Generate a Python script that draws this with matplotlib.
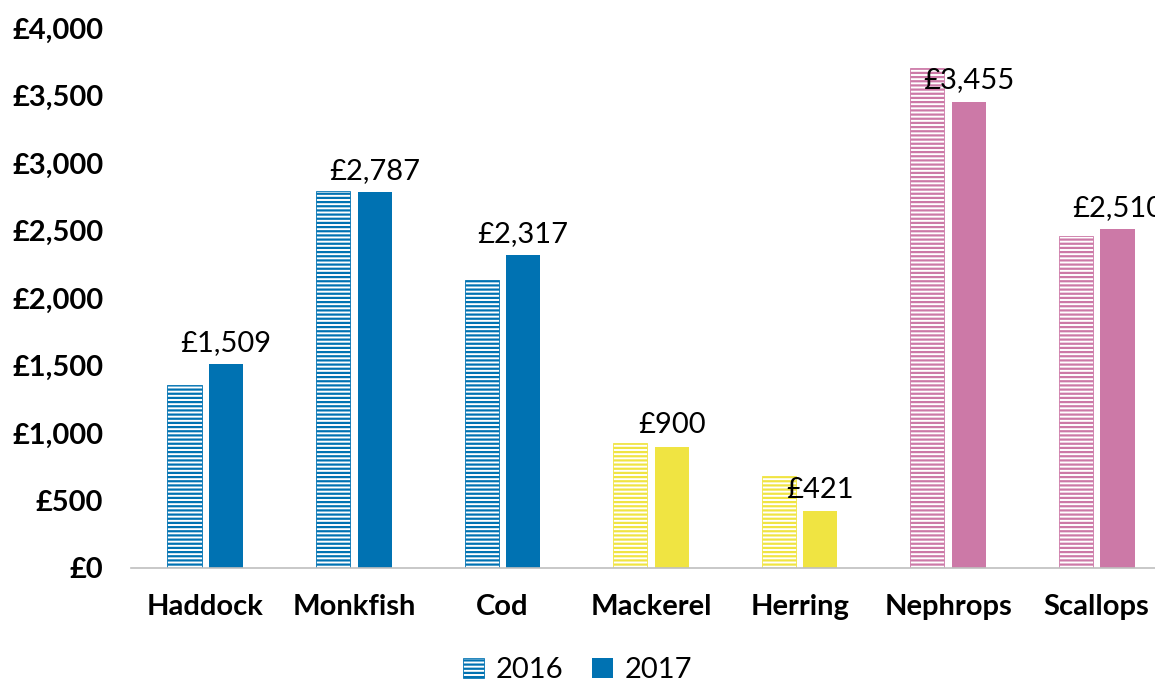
import numpy as np
import matplotlib
matplotlib.use("Agg")
import matplotlib.pyplot as plt
from matplotlib.patches import Patch

species = ["Haddock", "Monkfish", "Cod", "Mackerel", "Herring", "Nephrops", "Scallops"]
vals_2016 = [1356, 2793, 2133, 926, 681, 3704, 2459]
vals_2017 = [1509, 2787, 2317, 900, 421, 3455, 2510]
colors = ["#0072B2", "#0072B2", "#0072B2", "#F0E442", "#F0E442", "#CC79A7", "#CC79A7"]
yticks = np.arange(0, 4001, 500)

plt.rcParams['font.family'] = ['Lato', 'DejaVu Sans']
plt.rcParams['hatch.linewidth'] = 1.6

fig = plt.figure(figsize=(11.55, 6.83), dpi=100)
ax = fig.add_axes([131/1155, 1 - 568/683, 1040/1155, 540/683])

x = np.arange(len(species))
w = 0.23
off = 0.14
for i in range(len(species)):
    ax.bar(x[i] - off, vals_2016[i], w, facecolor="white", edgecolor=colors[i],
           hatch="----", linewidth=0.6)
    ax.bar(x[i] + off, vals_2017[i], w, color=colors[i])
    ax.text(x[i] + off, vals_2017[i] + 60, "£{:,}".format(vals_2017[i]),
            ha="center", va="bottom", fontsize=21)

ax.set_xlim(-0.5, len(species) - 0.5)
ax.set_ylim(0, 4000)
ax.set_yticks(yticks)
ax.set_yticklabels(["£{:,}".format(v) for v in yticks], fontsize=21, fontweight="bold")
ax.set_xticks(x)
ax.set_xticklabels(species, fontsize=21, fontweight="bold")
ax.tick_params(axis="both", length=0)
ax.tick_params(axis="x", pad=19)
ax.tick_params(axis="y", pad=20)
for s in ["top", "right", "left"]:
    ax.spines[s].set_visible(False)
ax.spines["bottom"].set_color("#BFBFBF")
ax.spines["bottom"].set_linewidth(1.2)

handles = [Patch(facecolor="white", edgecolor="#0072B2", hatch="----", linewidth=0.6, label="2016"),
           Patch(facecolor="#0072B2", label="2017")]
fig.legend(handles=handles, loc="center", bbox_to_anchor=(0.5, 1 - 670/683), ncol=2,
           frameon=False, fontsize=21, handlelength=0.7, handleheight=0.7,
           handletextpad=0.4, columnspacing=1.0)

fig.savefig("out.png", dpi=100)
